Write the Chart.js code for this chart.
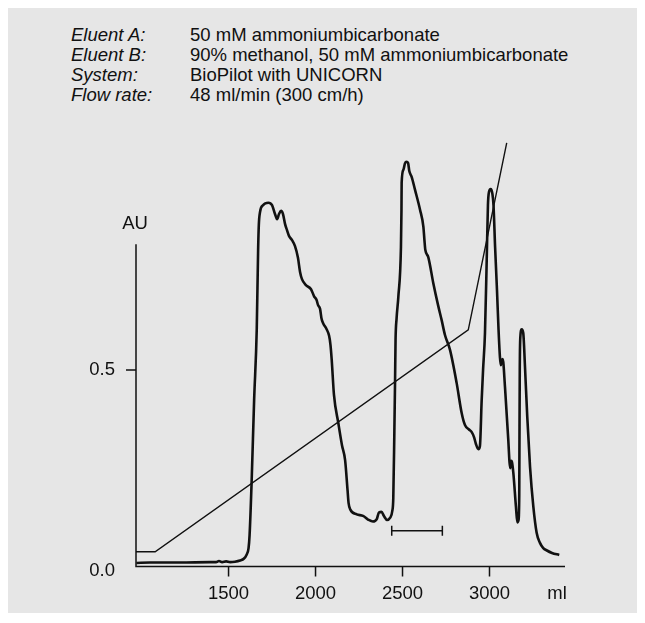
<!DOCTYPE html>
<html>
<head>
<meta charset="utf-8">
<title>Reversed phase purification</title>
<script src="https://cdn.jsdelivr.net/npm/chart.js@4/dist/chart.umd.min.js"></script>
<style>
  html, body { margin: 0; padding: 0; background: #ffffff; }
  #wrap { position: relative; width: 645px; height: 623px; overflow: hidden; }
  #panel { position: absolute; left: 8px; top: 8px; width: 629px; height: 605px; background: #e6e6e6; }
  #info { position: absolute; left: 0; top: 25px; width: 645px;
          font-family: "Liberation Sans", Arial, Helvetica, sans-serif;
          font-size: 18.5px; line-height: 20px; color: #111; }
  #info .row { position: relative; height: 20px; white-space: nowrap; }
  #info .k { position: absolute; left: 71px; font-style: italic; }
  #info .v { position: absolute; left: 190px; }
  #c { position: absolute; left: 0; top: 0; }
</style>
</head>
<body>
<div id="wrap">
  <div id="panel"></div>
  <div id="info"></div>
  <canvas id="c" width="645" height="623"></canvas>
</div>
<script>
// Run conditions
const infoKeys = ["Eluent A:", "Eluent B:", "System:", "Flow rate:"];
const infoValues = [
  "50 mM ammoniumbicarbonate",
  "90% methanol, 50 mM ammoniumbicarbonate",
  "BioPilot with UNICORN",
  "48 ml/min (300 cm/h)"
];

// UV absorbance trace (ml, AU)
const traceMl = [
  970, 1049, 1221, 1394, 1428, 1445, 1463, 1486, 1509, 1537,
  1566, 1589, 1603, 1615, 1621, 1633, 1647, 1662, 1670, 1674,
  1681, 1698, 1729, 1750, 1767, 1779, 1790, 1802, 1813, 1825,
  1836, 1848, 1865, 1882, 1899, 1911, 1922, 1945, 1974, 1991,
  2006, 2014, 2026, 2034, 2043, 2063, 2078, 2086, 2093, 2106,
  2131, 2152, 2170, 2184, 2190, 2201, 2237, 2273, 2302, 2330,
  2352, 2365, 2379, 2394, 2411, 2428, 2441, 2447, 2453, 2457,
  2460, 2466, 2476, 2491, 2494, 2495, 2505, 2514, 2523, 2532,
  2539, 2553, 2572, 2601, 2620, 2626, 2631, 2648, 2677, 2704,
  2725, 2744, 2773, 2811, 2840, 2859, 2882, 2897, 2911, 2922,
  2936, 2945, 2955, 2963, 2974, 2984, 2991, 2997, 3007, 3016,
  3023, 3032, 3043, 3052, 3060, 3065, 3069, 3076, 3089, 3108,
  3115, 3120, 3125, 3129, 3137, 3152, 3160, 3167, 3171, 3172,
  3174, 3177, 3185, 3194, 3204, 3217, 3233, 3252, 3271, 3290,
  3309, 3330, 3359, 3401
];
const traceAU = [
  0.020, 0.021, 0.021, 0.022, 0.022, 0.025, 0.022, 0.024, 0.022, 0.023,
  0.026, 0.031, 0.040, 0.057, 0.090, 0.226, 0.425, 0.600, 0.799, 0.861,
  0.893, 0.910, 0.916, 0.910, 0.888, 0.875, 0.888, 0.896, 0.888, 0.863,
  0.848, 0.833, 0.823, 0.808, 0.779, 0.744, 0.726, 0.711, 0.701, 0.684,
  0.674, 0.662, 0.652, 0.629, 0.617, 0.602, 0.585, 0.562, 0.525, 0.438,
  0.368, 0.313, 0.276, 0.201, 0.169, 0.152, 0.141, 0.137, 0.128, 0.123,
  0.129, 0.146, 0.147, 0.136, 0.127, 0.132, 0.149, 0.182, 0.343, 0.468,
  0.575, 0.629, 0.682, 0.806, 0.898, 0.965, 0.998, 1.014, 1.018, 1.015,
  0.995, 0.980, 0.948, 0.898, 0.856, 0.823, 0.799, 0.781, 0.716, 0.662,
  0.624, 0.587, 0.550, 0.468, 0.393, 0.363, 0.352, 0.346, 0.333, 0.316,
  0.303, 0.311, 0.425, 0.500, 0.592, 0.774, 0.910, 0.943, 0.950, 0.940,
  0.910, 0.808, 0.699, 0.600, 0.532, 0.512, 0.522, 0.527, 0.458, 0.326,
  0.271, 0.256, 0.274, 0.271, 0.244, 0.160, 0.121, 0.127, 0.189, 0.301,
  0.500, 0.580, 0.601, 0.592, 0.508, 0.384, 0.259, 0.160, 0.095, 0.070,
  0.057, 0.051, 0.045, 0.040
];

// Eluent B gradient, drawn against the AU axis
const gradientMl = [968, 1078, 2878, 3099];
const gradientAU = [0.048, 0.048, 0.600, 1.065];

// Pooled fraction marker
const poolMl = [2438, 2729];
const poolAU = [0.100, 0.100];

// Axes
const xTicks = [1500, 2000, 2500, 3000];
const yTicks = [0, 0.5];
const yTickMarks = [0.5];
const xRange = [968, 3434];
const yRange = [0, 1.1];
const axisBaseAU = 0.011;
const axisTopAU = 0.813;

const FONT_FAMILY = '"Liberation Sans", Arial, Helvetica, sans-serif';
const INK = '#111111';

// Header block
const info = document.getElementById('info');
infoKeys.forEach((k, i) => {
  const row = document.createElement('div');
  row.className = 'row';
  const a = document.createElement('span'); a.className = 'k'; a.textContent = k;
  const b = document.createElement('span'); b.className = 'v'; b.textContent = infoValues[i];
  row.appendChild(a); row.appendChild(b);
  info.appendChild(row);
});

// Axis lines, tick marks and unit labels
const axesPlugin = {
  id: 'chromAxes',
  afterDatasetsDraw(chart) {
    const { ctx, scales: { x, y } } = chart;
    const yBase = y.getPixelForValue(axisBaseAU);
    const yTop = y.getPixelForValue(axisTopAU);
    ctx.save();
    ctx.strokeStyle = INK;
    ctx.lineWidth = 1.5;
    ctx.beginPath();
    ctx.moveTo(x.left, yTop);
    ctx.lineTo(x.left, yBase);
    ctx.lineTo(x.right, yBase);
    xTicks.forEach(v => {
      const px = x.getPixelForValue(v);
      ctx.moveTo(px, yBase);
      ctx.lineTo(px, yBase + 10);
    });
    yTickMarks.forEach(v => {
      const py = y.getPixelForValue(v);
      ctx.moveTo(x.left, py);
      ctx.lineTo(x.left - 10, py);
    });
    ctx.stroke();

    ctx.fillStyle = INK;
    ctx.font = '18.5px ' + FONT_FAMILY;
    ctx.textAlign = 'center';
    ctx.textBaseline = 'middle';
    ctx.fillText('AU', x.left - 1, yTop - 20);
    ctx.fillText('ml', x.right - 8, y.bottom + 23);
    ctx.restore();
  }
};

const pts = (xs, ys) => xs.map((v, i) => ({ x: v, y: ys[i] }));

new Chart(document.getElementById('c'), {
  type: 'line',
  data: {
    datasets: [
      {
        label: 'A280',
        data: pts(traceMl, traceAU),
        borderColor: INK,
        borderWidth: 2.6,
        pointRadius: 0,
        cubicInterpolationMode: 'monotone',
        fill: false
      },
      {
        label: '% B',
        data: pts(gradientMl, gradientAU),
        borderColor: INK,
        borderWidth: 1.4,
        pointRadius: 0,
        tension: 0,
        fill: false
      },
      {
        label: 'Pool',
        data: pts(poolMl, poolAU),
        borderColor: INK,
        borderWidth: 1.5,
        pointStyle: 'line',
        rotation: 90,
        pointRadius: 5,
        pointBorderWidth: 1.5,
        pointBorderColor: INK,
        tension: 0,
        fill: false
      }
    ]
  },
  options: {
    responsive: false,
    animation: false,
    devicePixelRatio: 1,
    events: [],
    layout: { padding: { left: 0, right: 80, top: 128.8, bottom: 0 } },
    plugins: { legend: { display: false }, tooltip: { enabled: false } },
    scales: {
      x: {
        type: 'linear',
        min: xRange[0],
        max: xRange[1],
        afterFit(s) { s.height = 52; },
        afterBuildTicks(s) { s.ticks = xTicks.map(v => ({ value: v })); },
        grid: { display: false, drawTicks: false },
        border: { display: false },
        ticks: {
          padding: 12,
          color: INK,
          font: { family: FONT_FAMILY, size: 18.5 },
          maxRotation: 0,
          autoSkip: false,
          callback: v => String(v)
        }
      },
      y: {
        type: 'linear',
        min: yRange[0],
        max: yRange[1],
        afterFit(s) { s.width = 136; },
        afterBuildTicks(s) { s.ticks = yTicks.map(v => ({ value: v })); },
        grid: { display: false, drawTicks: false },
        border: { display: false },
        ticks: {
          padding: 21,
          color: INK,
          font: { family: FONT_FAMILY, size: 18.5 },
          autoSkip: false,
          callback: v => Number(v).toFixed(1)
        }
      }
    }
  },
  plugins: [axesPlugin]
});
</script>
</body>
</html>
